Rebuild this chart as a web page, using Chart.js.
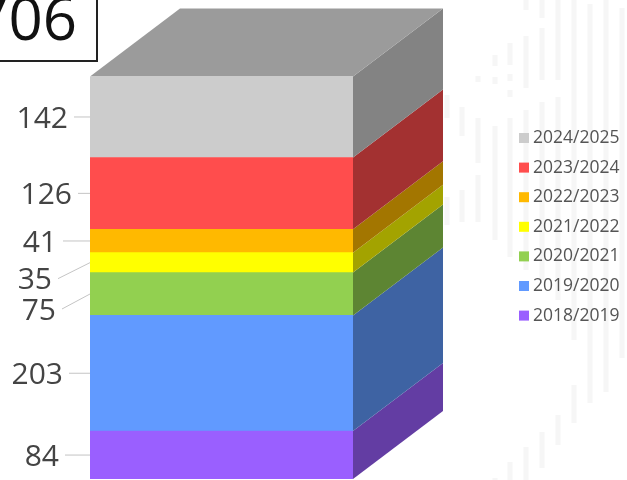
<!DOCTYPE html>
<html lang="en">

<head>
    <meta charset="UTF-8">
    <title>Seasons stack</title>
    <style>
        body {
            margin: 0;
            background: #fff;
        }

        canvas {
            display: block;
        }
    </style>
</head>

<body>
    <canvas id="stack" width="627" height="480"></canvas>
    <script src="https://cdn.jsdelivr.net/npm/chart.js"></script>
    <script>
        const categories = ['Total'];
        const seasons = ['2018/2019', '2019/2020', '2020/2021', '2021/2022', '2022/2023', '2023/2024', '2024/2025'];
        const values = [84, 203, 75, 35, 41, 126, 142];
        const colors = ['#9a5fff', '#619aff', '#92d050', '#ffff00', '#ffb900', '#ff4d4d', '#cccccc'];

        // value labels sit left of the bar, small segments get pushed down
        const labelRight = [59, 63, 56, 52, 57, 72, 68];
        const labelDrop = [0, 0, 15, 16, 0, 0, 0];

        // faint backdrop stripes: x, top, bottom
        const stripes = [
            [447, 95, 118], [447, 197, 225],
            [462, 107, 136], [462, 190, 222],
            [478, 76, 82], [478, 118, 163], [478, 175, 222],
            [495, 55, 66], [495, 77, 84], [495, 126, 240], [495, 478, 480],
            [510, 43, 65], [510, 74, 81], [510, 90, 97], [510, 118, 257], [510, 462, 480],
            [526, 0, 10], [526, 36, 88], [526, 110, 270], [526, 447, 480],
            [542, 0, 18], [542, 28, 80], [542, 102, 280], [542, 432, 468],
            [558, 0, 80], [558, 97, 300], [558, 415, 445],
            [574, 0, 340], [574, 385, 423],
            [590, 4, 403],
            [606, 0, 392],
            [622, 8, 358]
        ];

        const depthX = 90;
        const depthY = 68;

        function shade(hex, k) {
            const n = parseInt(hex.slice(1), 16);
            const r = Math.round((n >> 16) * k);
            const g = Math.round(((n >> 8) & 255) * k);
            const b = Math.round((n & 255) * k);
            return `rgb(${r},${g},${b})`;
        }

        function poly(ctx, pts, color) {
            ctx.fillStyle = color;
            ctx.beginPath();
            pts.forEach((p, i) => i ? ctx.lineTo(p[0], p[1]) : ctx.moveTo(p[0], p[1]));
            ctx.closePath();
            ctx.fill();
        }

        const stripesPlugin = {
            id: 'stripes',
            beforeDraw(chart) {
                const ctx = chart.ctx;
                ctx.save();
                ctx.fillStyle = '#f6f6f6';
                stripes.forEach(s => ctx.fillRect(s[0] - 2.5, s[1], 5, s[2] - s[1]));
                ctx.restore();
            }
        };

        // side and top faces of the block, taken from the bar elements
        const blockPlugin = {
            id: 'block',
            beforeDatasetsDraw(chart) {
                const ctx = chart.ctx;
                ctx.save();
                chart.data.datasets.forEach((ds, i) => {
                    const bar = chart.getDatasetMeta(i).data[0];
                    const right = bar.x + bar.width / 2;
                    const left = bar.x - bar.width / 2;
                    poly(ctx, [
                        [right, bar.y], [right + depthX, bar.y - depthY],
                        [right + depthX, bar.base - depthY], [right, bar.base]
                    ], shade(colors[i], 0.64));
                    if (i === chart.data.datasets.length - 1) {
                        poly(ctx, [
                            [left, bar.y], [left + depthX, bar.y - depthY],
                            [right + depthX, bar.y - depthY], [right, bar.y]
                        ], shade(colors[i], 0.76));
                    }
                });
                ctx.restore();
            }
        };

        const labelsPlugin = {
            id: 'valueLabels',
            afterDatasetsDraw(chart) {
                const ctx = chart.ctx;
                ctx.save();
                ctx.textBaseline = 'middle';
                ctx.textAlign = 'right';
                ctx.font = '30px "Open Sans"';
                chart.data.datasets.forEach((ds, i) => {
                    const bar = chart.getDatasetMeta(i).data[0];
                    const mid = (bar.y + bar.base) / 2;
                    const tx = labelRight[i];
                    const ty = mid + labelDrop[i];
                    ctx.strokeStyle = '#c4c4c4';
                    ctx.lineWidth = 1;
                    ctx.beginPath();
                    ctx.moveTo(bar.x - bar.width / 2, mid);
                    ctx.lineTo(tx + 6, ty);
                    ctx.stroke();
                    ctx.fillStyle = '#444';
                    ctx.fillText(ds.data[0], tx, ty + 2);
                });
                ctx.restore();
            }
        };

        // legend reads top down, newest season first
        const keyPlugin = {
            id: 'seasonKey',
            afterDraw(chart) {
                const ctx = chart.ctx;
                ctx.save();
                ctx.textBaseline = 'middle';
                ctx.font = '17.5px "Open Sans"';
                chart.data.datasets.slice().reverse().forEach((ds, i) => {
                    const y = 138 + i * 29.6;
                    ctx.fillStyle = ds.backgroundColor;
                    ctx.fillRect(519, y - 5, 10, 10);
                    ctx.fillStyle = '#555';
                    ctx.fillText(ds.label, 533, y);
                });
                ctx.restore();
            }
        };

        const totalPlugin = {
            id: 'totalBox',
            afterDraw(chart) {
                const ctx = chart.ctx;
                const total = values.reduce((a, b) => a + b, 0);
                ctx.save();
                ctx.strokeStyle = '#222';
                ctx.lineWidth = 2;
                ctx.strokeRect(-10, -10, 107, 71);
                ctx.fillStyle = '#111';
                ctx.textAlign = 'right';
                ctx.textBaseline = 'alphabetic';
                ctx.font = '60px "Open Sans"';
                ctx.fillText(total, 77, 40);
                ctx.restore();
            }
        };

        const stack = document.getElementById('stack');
        new Chart(stack, {
            type: 'bar',
            data: {
                labels: categories,
                datasets: seasons.map((season, i) => ({
                    label: season,
                    data: [values[i]],
                    backgroundColor: colors[i],
                    borderWidth: 0,
                    barPercentage: 1,
                    categoryPercentage: 1
                }))
            },
            options: {
                responsive: false,
                animation: false,
                layout: {
                    padding: { left: 90, right: 274, top: 76.5, bottom: 1 }
                },
                plugins: {
                    legend: { display: false },
                    title: { display: false },
                    tooltip: { enabled: false }
                },
                scales: {
                    x: { stacked: true, display: false },
                    y: {
                        stacked: true,
                        display: false,
                        min: 0,
                        max: values.reduce((a, b) => a + b, 0)
                    }
                }
            },
            plugins: [stripesPlugin, blockPlugin, labelsPlugin, keyPlugin, totalPlugin]
        });
    </script>
</body>

</html>
